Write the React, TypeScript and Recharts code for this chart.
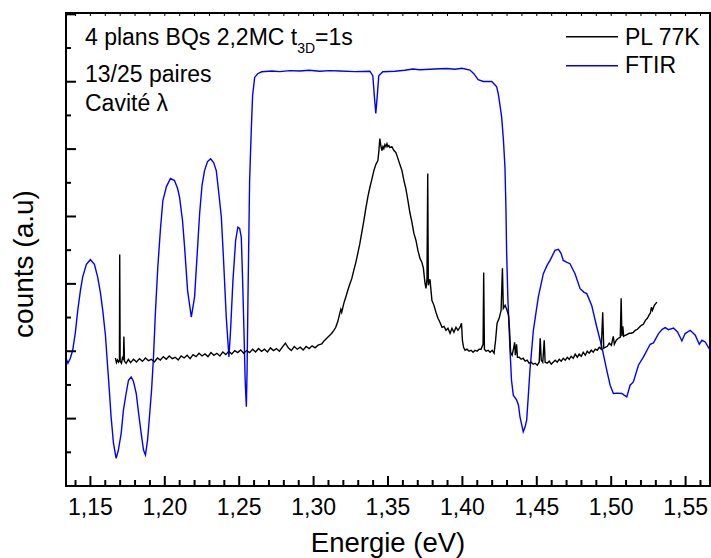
import React from 'react'
import { LineChart, Line, XAxis, YAxis, Legend, ReferenceArea } from 'recharts'

// energy (eV), counts (a.u.)
const plPoints: [number, number][] = [
  [1.1668, 1.9], [1.1675, 1.83], [1.1682, 1.87], [1.1689, 1.84], [1.1695, 1.87], [1.1697, 3.437],
  [1.17, 1.85], [1.1709, 1.82], [1.1715, 1.9], [1.1722, 1.87], [1.1725, 2.22], [1.1729, 1.85],
  [1.174, 1.82], [1.1755, 1.88],
  [1.177, 1.83], [1.179, 1.88], [1.181, 1.84], [1.183, 1.89], [1.185, 1.85], [1.187, 1.9],
  [1.189, 1.86], [1.191, 1.88], [1.193, 1.84], [1.195, 1.9], [1.197, 1.87], [1.199, 1.92],
  [1.201, 1.88], [1.203, 1.93], [1.205, 1.89], [1.207, 1.91], [1.209, 1.87], [1.211, 1.93],
  [1.213, 1.9], [1.215, 1.94], [1.217, 1.89], [1.219, 1.95], [1.221, 1.92], [1.223, 1.97],
  [1.225, 1.93], [1.227, 1.96], [1.229, 1.92], [1.231, 1.98], [1.233, 1.94], [1.235, 1.97],
  [1.237, 1.93], [1.239, 1.99], [1.241, 1.95], [1.243, 2.0], [1.245, 1.96], [1.247, 2.01],
  [1.249, 1.98], [1.251, 2.02], [1.253, 1.97], [1.255, 2.01], [1.257, 1.98], [1.259, 2.03],
  [1.261, 1.99], [1.263, 2.04], [1.265, 2.0], [1.267, 2.03], [1.269, 1.99], [1.271, 2.05],
  [1.273, 2.01], [1.275, 2.04], [1.277, 2.0], [1.279, 2.06], [1.281, 2.12], [1.283, 2.05],
  [1.285, 2.01], [1.287, 2.07], [1.289, 2.03], [1.291, 2.06], [1.293, 2.02], [1.295, 2.07],
  [1.297, 2.04], [1.299, 2.08], [1.301, 2.05], [1.303, 2.09],
  [1.3055, 2.11], [1.3068, 2.148], [1.3082, 2.178], [1.3095, 2.207], [1.3109, 2.237], [1.3122, 2.267],
  [1.3136, 2.311], [1.3149, 2.356], [1.3163, 2.444], [1.3176, 2.563], [1.3183, 2.622], [1.3189, 2.578],
  [1.3203, 2.711], [1.3216, 2.8], [1.323, 2.904], [1.3243, 2.993], [1.3257, 3.081], [1.327, 3.2],
  [1.3284, 3.319], [1.3297, 3.452], [1.3311, 3.6], [1.3324, 3.763], [1.3338, 3.941], [1.3351, 4.119],
  [1.3365, 4.296], [1.3378, 4.43], [1.3391, 4.548], [1.3405, 4.681], [1.3418, 4.77], [1.3432, 4.83],
  [1.3439, 4.978], [1.3445, 5.156], [1.3452, 5.052], [1.3459, 4.978], [1.3466, 5.037], [1.3472, 5.007],
  [1.3479, 5.067], [1.3486, 5.037], [1.3493, 5.081], [1.3499, 5.037], [1.3506, 5.052], [1.3513, 5.022],
  [1.3526, 5.037], [1.354, 4.978], [1.3553, 4.948], [1.3567, 4.859], [1.358, 4.77], [1.3594, 4.681],
  [1.3607, 4.533], [1.362, 4.415], [1.3634, 4.237], [1.3647, 4.059], [1.3661, 3.911], [1.3674, 3.748],
  [1.3688, 3.644], [1.3701, 3.496], [1.3715, 3.378], [1.3728, 3.319], [1.3738, 3.23], [1.3748, 3.022],
  [1.3755, 2.933], [1.3762, 3.067], [1.3767, 4.637], [1.3771, 2.978], [1.3775, 3.022], [1.3782, 3.067],
  [1.3789, 2.904], [1.3795, 2.756], [1.3809, 2.681], [1.3822, 2.578], [1.3836, 2.489], [1.3849, 2.43],
  [1.3863, 2.356], [1.3876, 2.37], [1.389, 2.311], [1.3903, 2.341], [1.3917, 2.267], [1.393, 2.341],
  [1.3943, 2.281], [1.3957, 2.356], [1.397, 2.311], [1.3984, 2.356], [1.3994, 2.415], [1.4, 2.163],
  [1.4008, 2.059], [1.4018, 2.015], [1.4031, 2.03], [1.4045, 2.0], [1.4058, 2.015], [1.4072, 1.985],
  [1.4085, 2.015], [1.4099, 2.0], [1.4112, 2.03], [1.4125, 2.03], [1.4139, 2.104], [1.4143, 3.17],
  [1.4148, 2.03], [1.4159, 2.0], [1.4173, 2.015], [1.4186, 1.985], [1.42, 2.015], [1.4213, 1.97],
  [1.4223, 2.163], [1.4233, 2.415], [1.4247, 2.489], [1.426, 2.607], [1.4269, 3.23], [1.4275, 2.637],
  [1.4287, 2.681], [1.43, 2.607], [1.431, 2.533], [1.4317, 2.311], [1.4324, 1.985], [1.4334, 1.941],
  [1.4344, 2.044], [1.4351, 2.133], [1.4356, 1.941], [1.4364, 2.104], [1.437, 1.911], [1.4381, 1.911],
  [1.4395, 1.881], [1.4408, 1.896], [1.4422, 1.852], [1.4435, 1.867], [1.4449, 1.822], [1.4462, 1.837],
  [1.4476, 1.807], [1.4489, 1.822], [1.4503, 1.793], [1.4516, 1.837], [1.4523, 2.193], [1.453, 1.867],
  [1.454, 1.837], [1.455, 2.163], [1.4556, 1.837], [1.457, 1.822], [1.4583, 1.852], [1.4597, 1.807],
  [1.461, 1.837], [1.4624, 1.867], [1.4637, 1.837], [1.4651, 1.881], [1.4664, 1.852], [1.4678, 1.896],
  [1.4691, 1.867], [1.4705, 1.911], [1.4718, 1.881], [1.4731, 1.926], [1.4745, 1.896], [1.4758, 1.956],
  [1.4772, 1.911], [1.4785, 1.956], [1.4799, 1.926], [1.4812, 1.985], [1.4826, 1.941], [1.4839, 2.0],
  [1.4852, 1.97], [1.4866, 2.015], [1.4879, 1.985], [1.4893, 2.03], [1.4906, 2.015], [1.492, 2.059],
  [1.4933, 2.03], [1.4943, 2.578], [1.495, 2.044], [1.496, 2.059], [1.4974, 2.074], [1.4987, 2.119],
  [1.5001, 2.089], [1.5014, 2.222], [1.5021, 2.104], [1.5034, 2.163], [1.5048, 2.193], [1.5061, 2.207],
  [1.5067, 2.785], [1.5072, 2.222], [1.5078, 2.37], [1.5084, 2.222], [1.5095, 2.237], [1.5108, 2.252],
  [1.5122, 2.267], [1.5135, 2.267], [1.5149, 2.281], [1.5162, 2.311], [1.5176, 2.326], [1.5189, 2.356],
  [1.5203, 2.385], [1.5216, 2.4], [1.523, 2.459], [1.5243, 2.489], [1.5257, 2.548], [1.5263, 2.563],
  [1.527, 2.652], [1.5277, 2.607], [1.529, 2.681], [1.5307, 2.73],
]

const ftirPoints: [number, number][] = [
  [1.1336, 1.896], [1.1349, 1.822], [1.1365, 1.896], [1.1381, 2.015], [1.1399, 2.281], [1.1415, 2.607],
  [1.1433, 2.904], [1.1448, 3.101], [1.1473, 3.289], [1.15, 3.359], [1.1527, 3.289], [1.1549, 3.101],
  [1.1567, 2.874], [1.1583, 2.607], [1.1601, 2.237], [1.1616, 1.767], [1.1628, 1.393], [1.1639, 1.027],
  [1.1655, 0.637], [1.1673, 0.41], [1.1688, 0.533], [1.1707, 0.785], [1.1722, 1.126], [1.174, 1.373],
  [1.1756, 1.57], [1.1774, 1.619], [1.1789, 1.556], [1.1808, 1.373], [1.1823, 1.096], [1.1841, 0.785],
  [1.1857, 0.533], [1.187, 0.459], [1.1884, 0.681], [1.1897, 1.027], [1.1911, 1.422], [1.1924, 1.916],
  [1.1937, 2.578], [1.1953, 3.249], [1.1971, 3.822], [1.1987, 4.237], [1.2011, 4.444], [1.2038, 4.563],
  [1.2065, 4.533], [1.2086, 4.415], [1.2099, 4.286], [1.2119, 3.941], [1.2133, 3.545], [1.2153, 2.904],
  [1.2178, 2.508], [1.22, 2.804], [1.2217, 3.422], [1.2234, 4.04], [1.225, 4.459], [1.2267, 4.681],
  [1.2287, 4.815], [1.2308, 4.855], [1.2328, 4.8], [1.2346, 4.681], [1.2361, 4.385], [1.238, 3.99],
  [1.2395, 3.348], [1.2413, 2.508], [1.2431, 1.916], [1.2442, 2.311], [1.2458, 3.052], [1.2476, 3.644],
  [1.2491, 3.841], [1.2503, 3.822], [1.2514, 3.693], [1.2523, 3.052], [1.2532, 2.311], [1.254, 1.57],
  [1.2548, 1.175], [1.2553, 1.719], [1.2559, 2.804], [1.257, 4.533], [1.2581, 5.274], [1.259, 5.793],
  [1.2604, 6.064], [1.2624, 6.119], [1.2651, 6.148], [1.272, 6.16], [1.2772, 6.15], [1.284, 6.165],
  [1.2906, 6.16], [1.297, 6.17], [1.3041, 6.155], [1.311, 6.165], [1.3176, 6.16], [1.3277, 6.15],
  [1.3378, 6.156], [1.3398, 6.089], [1.3408, 5.793], [1.3418, 5.53], [1.3428, 5.793], [1.3438, 6.089],
  [1.3465, 6.148], [1.3546, 6.156], [1.3613, 6.17], [1.3667, 6.188], [1.3714, 6.178], [1.3781, 6.185],
  [1.3849, 6.193], [1.3896, 6.197], [1.395, 6.185], [1.3997, 6.2], [1.4051, 6.173], [1.4077, 6.119],
  [1.4106, 6.03], [1.414, 6.004], [1.4174, 6.004], [1.4197, 6.004], [1.4212, 5.97], [1.423, 5.926],
  [1.4241, 5.822], [1.4252, 5.659], [1.4264, 5.471], [1.4276, 5.126], [1.4286, 4.73], [1.4293, 4.089],
  [1.4297, 3.496], [1.4306, 2.756], [1.432, 2.015], [1.433, 1.57], [1.4342, 1.348], [1.4365, 1.274],
  [1.4377, 1.2], [1.4387, 1.027], [1.4409, 0.804], [1.4421, 0.874], [1.4432, 0.978], [1.4441, 1.274],
  [1.4454, 1.719], [1.4477, 2.311], [1.451, 2.804], [1.4544, 3.151], [1.4569, 3.274], [1.4589, 3.348],
  [1.4622, 3.496], [1.4645, 3.511], [1.4663, 3.452], [1.4678, 3.348], [1.4703, 3.319], [1.4723, 3.299],
  [1.4757, 3.151], [1.4791, 2.929], [1.4818, 2.874], [1.4836, 2.855], [1.4869, 2.681], [1.4903, 2.36],
  [1.4937, 2.064], [1.497, 1.719], [1.4993, 1.496], [1.5015, 1.373], [1.504, 1.378], [1.5071, 1.373],
  [1.5087, 1.348], [1.5105, 1.323], [1.5127, 1.496], [1.5149, 1.545], [1.5183, 1.793], [1.5217, 1.916],
  [1.5262, 2.104], [1.5284, 2.123], [1.5318, 2.262], [1.5343, 2.326], [1.5363, 2.351], [1.5385, 2.321],
  [1.5419, 2.345], [1.5446, 2.286], [1.5475, 2.153], [1.5497, 2.262], [1.5531, 2.311], [1.5565, 2.237],
  [1.5592, 2.104], [1.561, 2.163], [1.5632, 2.138], [1.5664, 2.015],
]

const majorEnergyTicks = [1.15, 1.2, 1.25, 1.3, 1.35, 1.4, 1.45, 1.5, 1.55]
const energyTicks = Array.from({ length: 43 }, (_, i) => Math.round((1.14 + i * 0.01) * 100) / 100)
const countTicks = [0.5, 1, 1.5, 2, 2.5, 3, 3.5, 4, 4.5, 5, 5.5, 6, 6.5, 7]

const E_MIN = 1.1336
const E_MAX = 1.5664
const Y_MAX = 7.02
const PLOT_TOP = 13
const FONT = '"Liberation Sans", Arial, sans-serif'

const pl = plPoints.map(([e, v]) => ({ e, v }))
const ftir = ftirPoints.map(([e, v]) => ({ e, v }))

function EnergyTick(props: any) {
  const { x, y, payload } = props
  const value = payload.value
  const major = majorEnergyTicks.some((t) => Math.abs(t - value) < 1e-6)
  return (
    <g>
      <line x1={x} y1={y} x2={x} y2={y - (major ? 10 : 6)} stroke="#000" strokeWidth={2} />
      <line x1={x} y1={PLOT_TOP} x2={x} y2={PLOT_TOP + 3} stroke="#000" strokeWidth={1} />
      {major && (
        <text x={x} y={y + 29} textAnchor="middle" fontSize={23} fontFamily={FONT} fill="#000">
          {value.toFixed(2).replace('.', ',')}
        </text>
      )}
    </g>
  )
}

function CountTick(props: any) {
  const { x, y, payload } = props
  const major = Number.isInteger(payload.value)
  return <line x1={x} y1={y} x2={x + (major ? 10 : 5)} y2={y} stroke="#000" strokeWidth={2} />
}

function LegendBox() {
  return (
    <svg width={150} height={70} style={{ display: 'block' }}>
      <line x1={6} y1={26.7} x2={58} y2={26.7} stroke="#000" strokeWidth={1.4} />
      <text x={65} y={35} fontSize={23} fontFamily={FONT} fill="#000">PL 77K</text>
      <line x1={6} y1={55.7} x2={58} y2={55.7} stroke="#0000ff" strokeWidth={1.4} />
      <text x={65} y={63.3} fontSize={23} fontFamily={FONT} fill="#000">FTIR</text>
    </svg>
  )
}

export default function App() {
  return (
    <div style={{ position: 'absolute', left: 0, top: 0, width: 711, height: 558, background: '#fff' }}>
      <LineChart width={711} height={558} margin={{ top: PLOT_TOP, right: 1, bottom: 0, left: 0 }}>
        <XAxis
          type="number"
          dataKey="e"
          domain={[E_MIN, E_MAX]}
          allowDataOverflow
          ticks={energyTicks}
          interval={0}
          height={72}
          tickSize={0}
          tickMargin={0}
          tickLine={false}
          axisLine={{ stroke: '#000', strokeWidth: 2 }}
          tick={<EnergyTick />}
          label={{ value: 'Energie (eV)', position: 'insideBottom', offset: 6, fontSize: 27.5, fill: '#000', fontFamily: FONT }}
        />
        <YAxis
          type="number"
          domain={[0, Y_MAX]}
          allowDataOverflow
          ticks={countTicks}
          interval={0}
          width={66}
          tickSize={0}
          tickMargin={0}
          tickLine={false}
          axisLine={{ stroke: '#000', strokeWidth: 2 }}
          tick={<CountTick />}
        />
        <Legend
          layout="horizontal"
          verticalAlign="middle"
          align="center"
          content={<LegendBox />}
          wrapperStyle={{ position: 'absolute', left: 560, top: 10, width: 150, height: 70 }}
        />
        <Line data={ftir} dataKey="v" name="FTIR" type="linear" stroke="#0000ff" strokeWidth={1.4} dot={false} activeDot={false} isAnimationActive={false} />
        <Line data={pl} dataKey="v" name="PL 77K" type="linear" stroke="#000" strokeWidth={1.4} dot={false} activeDot={false} isAnimationActive={false} />
        <ReferenceArea x1={E_MIN} x2={E_MAX} y1={0} y2={Y_MAX} fill="none" stroke="#000" strokeWidth={2} ifOverflow="extendDomain" />
      </LineChart>
      <svg width={711} height={558} style={{ position: 'absolute', left: 0, top: 0, pointerEvents: 'none' }}>
        <g fontFamily={FONT} fontSize={23} fill="#000">
          <text x={85} y={45}>
            4 plans BQs 2,2MC t<tspan dy={8} fontSize={14}>3D</tspan>
            <tspan dy={-8}>=1s</tspan>
          </text>
          <text x={85} y={81.7}>13/25 paires</text>
          <text x={85} y={110.7}>Cavité λ</text>
        </g>
        <text x={33} y={264} transform="rotate(-90 33 264)" textAnchor="middle" fontSize={28} fontFamily={FONT} fill="#000">
          counts (a.u)
        </text>
      </svg>
    </div>
  )
}
